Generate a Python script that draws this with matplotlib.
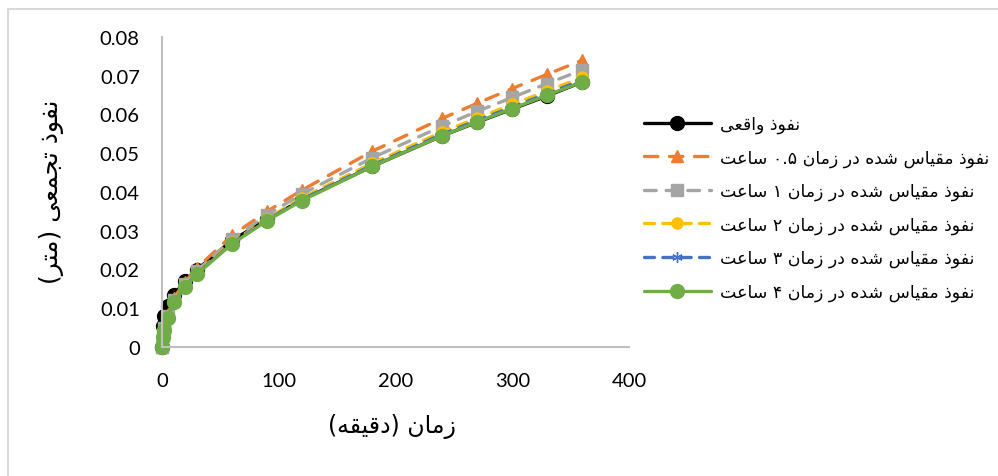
import re

import matplotlib
matplotlib.use("Agg")
from matplotlib import pyplot as plt
from matplotlib.patches import Rectangle

# time (min) and cumulative infiltration (m)
times = [0, 1, 2, 5, 10, 20, 30, 60, 90, 120, 180, 240, 270, 300, 330, 360]
real_inf = [0, 0.0055, 0.0080, 0.0105, 0.0135, 0.0170, 0.0200, 0.0275, 0.0330, 0.0380,
            0.0466, 0.0545, 0.0580, 0.0614, 0.0648, 0.0684]
inf_05h = [0, 0.0029, 0.0051, 0.0084, 0.0126, 0.0169, 0.0204, 0.0288, 0.0350, 0.0405,
           0.0505, 0.0590, 0.0629, 0.0667, 0.0704, 0.0740]
inf_1h = [0, 0.0028, 0.0049, 0.0081, 0.0122, 0.0163, 0.0197, 0.0278, 0.0341, 0.0395,
          0.0488, 0.0570, 0.0608, 0.0644, 0.0680, 0.0715]
inf_2h = [0, 0.0027, 0.0047, 0.0078, 0.0119, 0.0159, 0.0192, 0.0270, 0.0331, 0.0385,
          0.0474, 0.0555, 0.0591, 0.0626, 0.0661, 0.0696]
inf_3h = [0, 0.0026, 0.0046, 0.0077, 0.0117, 0.0157, 0.0190, 0.0268, 0.0328, 0.0381,
          0.0469, 0.0549, 0.0585, 0.0619, 0.0654, 0.0689]
inf_4h = [0, 0.0025, 0.0045, 0.0075, 0.0115, 0.0155, 0.0188, 0.0266, 0.0326, 0.0378,
          0.0466, 0.0545, 0.0581, 0.0615, 0.0650, 0.0684]

series_labels = ["نفوذ واقعی",
                 "نفوذ مقیاس شده در زمان ۰.۵ ساعت",
                 "نفوذ مقیاس شده در زمان ۱ ساعت",
                 "نفوذ مقیاس شده در زمان ۲ ساعت",
                 "نفوذ مقیاس شده در زمان ۳ ساعت",
                 "نفوذ مقیاس شده در زمان ۴ ساعت"]
x_label = "زمان (دقیقه)"
y_label = "نفوذ تجمعی (متر)"
x_ticks = [0, 100, 200, 300, 400]
y_ticks = [0, 0.01, 0.02, 0.03, 0.04, 0.05, 0.06, 0.07, 0.08]
y_tick_labels = ["0", "0.01", "0.02", "0.03", "0.04", "0.05", "0.06", "0.07", "0.08"]

# matplotlib has no arabic shaping, so map letters to presentation forms by hand
# (isolated, final, initial, medial)
FORMS = {
    'ا': ('\uFE8D', '\uFE8E', None, None),
    'ت': ('\uFE95', '\uFE96', '\uFE97', '\uFE98'),
    'ج': ('\uFE9D', '\uFE9E', '\uFE9F', '\uFEA0'),
    'د': ('\uFEA9', '\uFEAA', None, None),
    'ذ': ('\uFEAB', '\uFEAC', None, None),
    'ر': ('\uFEAD', '\uFEAE', None, None),
    'ز': ('\uFEAF', '\uFEB0', None, None),
    'س': ('\uFEB1', '\uFEB2', '\uFEB3', '\uFEB4'),
    'ش': ('\uFEB5', '\uFEB6', '\uFEB7', '\uFEB8'),
    'ع': ('\uFEC9', '\uFECA', '\uFECB', '\uFECC'),
    'ف': ('\uFED1', '\uFED2', '\uFED3', '\uFED4'),
    'ق': ('\uFED5', '\uFED6', '\uFED7', '\uFED8'),
    'م': ('\uFEE1', '\uFEE2', '\uFEE3', '\uFEE4'),
    'ن': ('\uFEE5', '\uFEE6', '\uFEE7', '\uFEE8'),
    'ه': ('\uFEE9', '\uFEEA', '\uFEEB', '\uFEEC'),
    'و': ('\uFEED', '\uFEEE', None, None),
    'ی': ('\uFEEF', '\uFEF0', '\uFEF3', '\uFEF4'),
}
MIRROR = str.maketrans("()", ")(")


def shape(s):
    out = []
    for i, ch in enumerate(s):
        if ch not in FORMS:
            out.append(ch)
            continue
        prev = s[i - 1] if i > 0 else ''
        nxt = s[i + 1] if i + 1 < len(s) else ''
        join_prev = prev in FORMS and FORMS[prev][2] is not None
        join_next = FORMS[ch][2] is not None and nxt in FORMS
        f = FORMS[ch]
        if join_prev and join_next:
            out.append(f[3])
        elif join_prev:
            out.append(f[1])
        elif join_next:
            out.append(f[2])
        else:
            out.append(f[0])
    return ''.join(out)


def rtl(s):
    runs = re.findall(r'[0-9۰-۹]+(?:\.[0-9۰-۹]+)*|[^0-9۰-۹]+', shape(s))
    vis = []
    for r in reversed(runs):
        if r[0].isdigit():
            vis.append(r)
        else:
            vis.append(r[::-1].translate(MIRROR))
    return ''.join(vis)


plt.rcParams['font.family'] = ['Lato', 'DejaVu Sans']
fa_font = ['DejaVu Sans']

fig = plt.figure(figsize=(9.98, 4.77), dpi=100)
W, H = 998, 477
ax = fig.add_axes([162 / W, 1 - 348 / H, (629 - 162) / W, (348 - 38) / H])

styles = [
    dict(color='#000000', ls='-', marker='o', ms=10),
    dict(color='#ED7D31', ls=(0, (4, 3.5)), marker='^', ms=9),
    dict(color='#A5A5A5', ls=(0, (3.5, 3)), marker='s', ms=8),
    dict(color='#FFC000', ls=(0, (3, 2.5)), marker='o', ms=8),
    dict(color='#4472C4', ls=(0, (3, 2.5)), marker=(6, 2, 0), ms=7.5),
    dict(color='#70AD47', ls='-', marker='o', ms=10),
]
all_series = [real_inf, inf_05h, inf_1h, inf_2h, inf_3h, inf_4h]

handles = []
for vals, st in zip(all_series, styles):
    line, = ax.plot(times, vals, linestyle=st['ls'], color=st['color'], lw=2.4,
                    marker=st['marker'], markersize=st['ms'], markerfacecolor=st['color'],
                    markeredgecolor=st['color'], dash_capstyle='round',
                    solid_capstyle='round', clip_on=False)
    handles.append(line)

ax.set_xlim(0, 400)
ax.set_ylim(0, 0.08)
ax.set_xticks(x_ticks)
ax.set_yticks(y_ticks)
ax.set_yticklabels(y_tick_labels)
ax.tick_params(length=0, labelsize=14.5, colors='black')
ax.tick_params(axis='y', pad=16)
ax.tick_params(axis='x', pad=18)
for side in ['top', 'right']:
    ax.spines[side].set_visible(False)
for side in ['left', 'bottom']:
    ax.spines[side].set_color('#BFBFBF')
    ax.spines[side].set_linewidth(1.5)

fig.text(392 / W, 1 - 427 / H, rtl(x_label), ha='center', va='center',
         fontsize=17, family=fa_font)
fig.text(52 / W, 1 - 192 / H, rtl(y_label), ha='center', va='center',
         rotation=90, fontsize=18, family=fa_font)

leg = fig.legend(handles, [rtl(l) for l in series_labels], loc='upper left',
                 bbox_to_anchor=(628 / W, 1 - 100 / H), frameon=False, numpoints=1,
                 handlelength=3.9, handletextpad=0.5, labelspacing=0.88,
                 prop={'family': fa_font, 'size': 12.5})

# chart area border (only top and left edges fall inside the picture)
fig.add_artist(Rectangle((8 / W, -0.5), 2, 1.5 - 10 / H, transform=fig.transFigure,
                         fill=False, edgecolor='#D9D9D9', lw=1.5))

fig.savefig("out.png", dpi=100, facecolor='white')
